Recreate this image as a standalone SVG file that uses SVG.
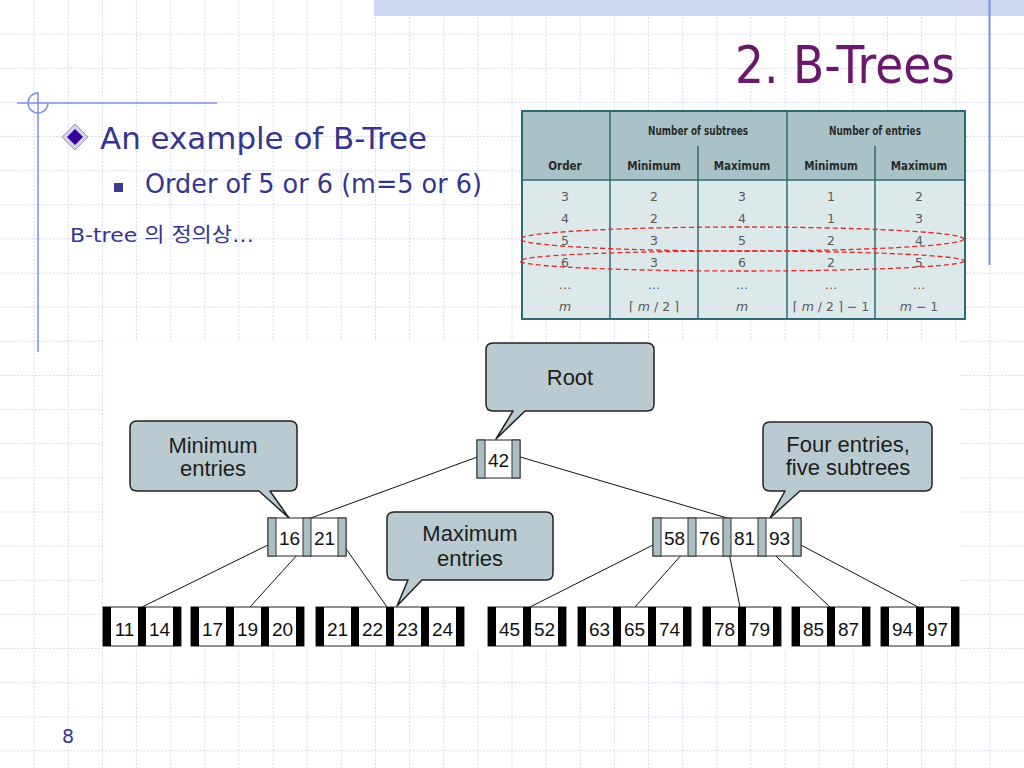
<svg xmlns="http://www.w3.org/2000/svg" width="1024" height="768" viewBox="0 0 1024 768">
<style>
.grid{stroke:#d6dbee;stroke-width:1;stroke-dasharray:2 1.5;fill:none}
.deco{stroke:#7d8fe0;stroke-width:1.5;fill:none}
.slide{font-family:"DejaVu Sans","Liberation Sans",sans-serif;fill:#35358f}
.th{font-family:"DejaVu Sans Condensed","DejaVu Sans",sans-serif;font-weight:bold;font-size:11.5px;fill:#2a2a2a;text-anchor:middle}
.td{font-family:"DejaVu Sans","Liberation Sans",sans-serif;font-size:12.5px;fill:#5a5a5a;text-anchor:middle}
.tl{stroke:#2e6a74;stroke-width:1.5}
.oval{fill:none;stroke:#e02828;stroke-width:1.3;stroke-dasharray:5 3}
.callout{fill:#b9cbd0;stroke:#222;stroke-width:1.5;stroke-linejoin:round}
.ct{font-family:"Liberation Sans",Arial,sans-serif;font-size:22px;fill:#1e1e1e;text-anchor:middle}
.cell{fill:#fff;stroke:#222;stroke-width:1}
.pbar{fill:#a9bfc4;stroke:#333;stroke-width:1}
.lbar{fill:#000}
.key{font-family:"Liberation Sans",Arial,sans-serif;font-size:19px;fill:#111;text-anchor:middle}
.conn{stroke:#111;stroke-width:1;fill:none}
</style>
<rect width="1024" height="768" fill="#fff"/>
<path class="grid" d="M34.1 0V768M68.3 0V768M102.4 0V768M136.5 0V768M170.7 0V768M204.8 0V768M238.9 0V768M273.1 0V768M307.2 0V768M341.3 0V768M375.5 0V768M409.6 0V768M443.7 0V768M477.9 0V768M512 0V768M546.1 0V768M580.3 0V768M614.4 0V768M648.5 0V768M682.7 0V768M716.8 0V768M750.9 0V768M785.1 0V768M819.2 0V768M853.3 0V768M887.5 0V768M921.6 0V768M955.7 0V768M989.9 0V768M0 34.1H1024M0 68.3H1024M0 102.4H1024M0 136.5H1024M0 170.7H1024M0 204.8H1024M0 238.9H1024M0 273.1H1024M0 307.2H1024M0 341.3H1024M0 375.5H1024M0 409.6H1024M0 443.7H1024M0 477.9H1024M0 512H1024M0 546.1H1024M0 580.3H1024M0 614.4H1024M0 648.5H1024M0 682.7H1024M0 716.8H1024M0 750.9H1024"/>
<rect x="374" y="0" width="650" height="16" fill="#cdd7f2"/>
<g class="deco">
<line x1="17" y1="103" x2="217" y2="103"/>
<line x1="38" y1="92" x2="38" y2="352"/>
<path d="M38 93A10 10 0 1 0 48 103"/>
<line x1="989.5" y1="0" x2="989.5" y2="265" stroke-width="2"/>
</g>
<text class="slide" x="735" y="83" font-size="52" textLength="220" lengthAdjust="spacingAndGlyphs" style="fill:#6a186a">2. B-Trees</text>
<path d="M75 124L88 137L75 150L62 137Z" fill="#d6d2ec" stroke="#9a96c0" stroke-width="1"/>
<path d="M75 129L83 137L75 145L67 137Z" fill="#33009c"/>
<text class="slide" x="100" y="149" font-size="31" textLength="327" lengthAdjust="spacingAndGlyphs">An example of B-Tree</text>
<rect x="114" y="183" width="9" height="9" fill="#3a3a8f"/>
<text class="slide" x="145" y="193" font-size="27" textLength="337" lengthAdjust="spacingAndGlyphs">Order of 5 or 6 (m=5 or 6)</text>
<text class="slide" x="70" y="242" font-size="20" textLength="184" lengthAdjust="spacingAndGlyphs" style="font-family:'DejaVu Sans','Noto Sans CJK KR',sans-serif">B-tree 의 정의상…</text>
<text class="slide" x="62" y="743" font-size="19">8</text>
<g id="table">
<rect x="522" y="111" width="443" height="208" fill="#dce8ea"/>
<rect x="522" y="111" width="443" height="69" fill="#a9c2c7"/>
<line class="tl" x1="522" y1="180" x2="965" y2="180"/>
<line class="tl" x1="610" y1="111" x2="610" y2="319"/>
<line class="tl" x1="787" y1="111" x2="787" y2="319"/>
<line class="tl" x1="698" y1="146" x2="698" y2="319"/>
<line class="tl" x1="875" y1="146" x2="875" y2="319"/>
<rect x="522" y="111" width="443" height="208" fill="none" stroke="#2e6a74" stroke-width="2"/>
<text class="th" x="698" y="135" textLength="100" lengthAdjust="spacingAndGlyphs">Number of subtrees</text>
<text class="th" x="875" y="135" textLength="92" lengthAdjust="spacingAndGlyphs">Number of entries</text>
<text class="th" x="565" y="170">Order</text>
<text class="th" x="654" y="170">Minimum</text>
<text class="th" x="742" y="170">Maximum</text>
<text class="th" x="831" y="170">Minimum</text>
<text class="th" x="919" y="170">Maximum</text>
<g class="td">
<text x="565" y="201">3</text><text x="654" y="201">2</text><text x="742" y="201">3</text><text x="831" y="201">1</text><text x="919" y="201">2</text>
<text x="565" y="223">4</text><text x="654" y="223">2</text><text x="742" y="223">4</text><text x="831" y="223">1</text><text x="919" y="223">3</text>
<text x="565" y="245">5</text><text x="654" y="245">3</text><text x="742" y="245">5</text><text x="831" y="245">2</text><text x="919" y="245">4</text>
<text x="565" y="267">6</text><text x="654" y="267">3</text><text x="742" y="267">6</text><text x="831" y="267">2</text><text x="919" y="267">5</text>
<text x="565" y="289">…</text><text x="654" y="289">…</text><text x="742" y="289">…</text><text x="831" y="289">…</text><text x="919" y="289">…</text>
<text x="565" y="311" font-style="italic">m</text><text x="654" y="311">⌈ <tspan font-style="italic">m</tspan> / 2 ⌉</text><text x="742" y="311" font-style="italic">m</text><text x="831" y="311">⌈ <tspan font-style="italic">m</tspan> / 2 ⌉ − 1</text><text x="919" y="311"><tspan font-style="italic">m</tspan> − 1</text>
</g>
<ellipse class="oval" cx="742" cy="239" rx="222" ry="12"/>
<ellipse class="oval" cx="742" cy="261" rx="222" ry="10"/>
</g>
<rect x="103" y="341" width="857" height="308" fill="#fff"/>
<g id="connectors">
<path class="conn" d="M480 456L311 518M517 456L727 518M272 543L142 607M308 543L250 607M342 543L387 607M657 543L530 607M692 543L635 607M727 543L740 607M762 543L830 607M797 543L918 607"/>
</g>
<g id="callout-root">
<path class="callout" d="M493 343H647Q654 343 654 350V404Q654 411 647 411H525L496 439L513 411H493Q486 411 486 404V350Q486 343 493 343Z"/>
<text class="ct" x="570" y="385">Root</text>
</g>
<g id="callout-min">
<path class="callout" d="M137 421H290Q297 421 297 428V484Q297 491 290 491H270L289 518L259 491H137Q130 491 130 484V428Q130 421 137 421Z"/>
<text class="ct" x="213" y="453">Minimum<tspan x="213" dy="23">entries</tspan></text>
</g>
<g id="callout-four">
<path class="callout" d="M770 422H925Q932 422 932 429V484Q932 491 925 491H800L770 518L785 491H770Q763 491 763 484V429Q763 422 770 422Z"/>
<text class="ct" x="848" y="452">Four entries,<tspan x="848" dy="23">five subtrees</tspan></text>
</g>
<g id="callout-max">
<path class="callout" d="M394 512H546Q553 512 553 519V573Q553 580 546 580H422L397 606L408 580H394Q387 580 387 573V519Q387 512 394 512Z"/>
<text class="ct" x="470" y="541">Maximum<tspan x="470" dy="25">entries</tspan></text>
</g>
<g id="node-root">
<rect class="cell" x="477" y="440" width="43" height="38"/>
<rect class="pbar" x="477" y="440" width="8" height="38"/>
<rect class="pbar" x="512" y="440" width="8" height="38"/>
<text class="key" x="498.5" y="467">42</text>
</g>
<g id="node-16-21">
<rect class="cell" x="268" y="518" width="78" height="38"/>
<rect class="pbar" x="268" y="518" width="8" height="38"/>
<rect class="pbar" x="303" y="518" width="8" height="38"/>
<rect class="pbar" x="338" y="518" width="8" height="38"/>
<text class="key" x="289.5" y="545">16</text><text class="key" x="324.5" y="545">21</text>
</g>
<g id="node-58-93">
<rect class="cell" x="653" y="518" width="148" height="38"/>
<rect class="pbar" x="653" y="518" width="8" height="38"/>
<rect class="pbar" x="688" y="518" width="8" height="38"/>
<rect class="pbar" x="723" y="518" width="8" height="38"/>
<rect class="pbar" x="758" y="518" width="8" height="38"/>
<rect class="pbar" x="793" y="518" width="8" height="38"/>
<text class="key" x="674.5" y="545">58</text><text class="key" x="709.5" y="545">76</text><text class="key" x="744.5" y="545">81</text><text class="key" x="779.5" y="545">93</text>
</g>
<g id="leaf-11-14">
<rect class="cell" x="103" y="607" width="78" height="39"/>
<rect class="lbar" x="103" y="607" width="8" height="39"/><rect class="lbar" x="138" y="607" width="8" height="39"/><rect class="lbar" x="173" y="607" width="8" height="39"/>
<text class="key" x="124.5" y="636">11</text><text class="key" x="159.5" y="636">14</text>
</g>
<g id="leaf-17-20">
<rect class="cell" x="191" y="607" width="113" height="39"/>
<rect class="lbar" x="191" y="607" width="8" height="39"/><rect class="lbar" x="226" y="607" width="8" height="39"/><rect class="lbar" x="261" y="607" width="8" height="39"/><rect class="lbar" x="296" y="607" width="8" height="39"/>
<text class="key" x="212.5" y="636">17</text><text class="key" x="247.5" y="636">19</text><text class="key" x="282.5" y="636">20</text>
</g>
<g id="leaf-21-24">
<rect class="cell" x="316" y="607" width="148" height="39"/>
<rect class="lbar" x="316" y="607" width="8" height="39"/><rect class="lbar" x="351" y="607" width="8" height="39"/><rect class="lbar" x="386" y="607" width="8" height="39"/><rect class="lbar" x="421" y="607" width="8" height="39"/><rect class="lbar" x="456" y="607" width="8" height="39"/>
<text class="key" x="337.5" y="636">21</text><text class="key" x="372.5" y="636">22</text><text class="key" x="407.5" y="636">23</text><text class="key" x="442.5" y="636">24</text>
</g>
<g id="leaf-45-52">
<rect class="cell" x="488" y="607" width="78" height="39"/>
<rect class="lbar" x="488" y="607" width="8" height="39"/><rect class="lbar" x="523" y="607" width="8" height="39"/><rect class="lbar" x="558" y="607" width="8" height="39"/>
<text class="key" x="509.5" y="636">45</text><text class="key" x="544.5" y="636">52</text>
</g>
<g id="leaf-63-74">
<rect class="cell" x="578" y="607" width="113" height="39"/>
<rect class="lbar" x="578" y="607" width="8" height="39"/><rect class="lbar" x="613" y="607" width="8" height="39"/><rect class="lbar" x="648" y="607" width="8" height="39"/><rect class="lbar" x="683" y="607" width="8" height="39"/>
<text class="key" x="599.5" y="636">63</text><text class="key" x="634.5" y="636">65</text><text class="key" x="669.5" y="636">74</text>
</g>
<g id="leaf-78-79">
<rect class="cell" x="703" y="607" width="78" height="39"/>
<rect class="lbar" x="703" y="607" width="8" height="39"/><rect class="lbar" x="738" y="607" width="8" height="39"/><rect class="lbar" x="773" y="607" width="8" height="39"/>
<text class="key" x="724.5" y="636">78</text><text class="key" x="759.5" y="636">79</text>
</g>
<g id="leaf-85-87">
<rect class="cell" x="792" y="607" width="78" height="39"/>
<rect class="lbar" x="792" y="607" width="8" height="39"/><rect class="lbar" x="827" y="607" width="8" height="39"/><rect class="lbar" x="862" y="607" width="8" height="39"/>
<text class="key" x="813.5" y="636">85</text><text class="key" x="848.5" y="636">87</text>
</g>
<g id="leaf-94-97">
<rect class="cell" x="881" y="607" width="78" height="39"/>
<rect class="lbar" x="881" y="607" width="8" height="39"/><rect class="lbar" x="916" y="607" width="8" height="39"/><rect class="lbar" x="951" y="607" width="8" height="39"/>
<text class="key" x="902.5" y="636">94</text><text class="key" x="937.5" y="636">97</text>
</g>
</svg>
